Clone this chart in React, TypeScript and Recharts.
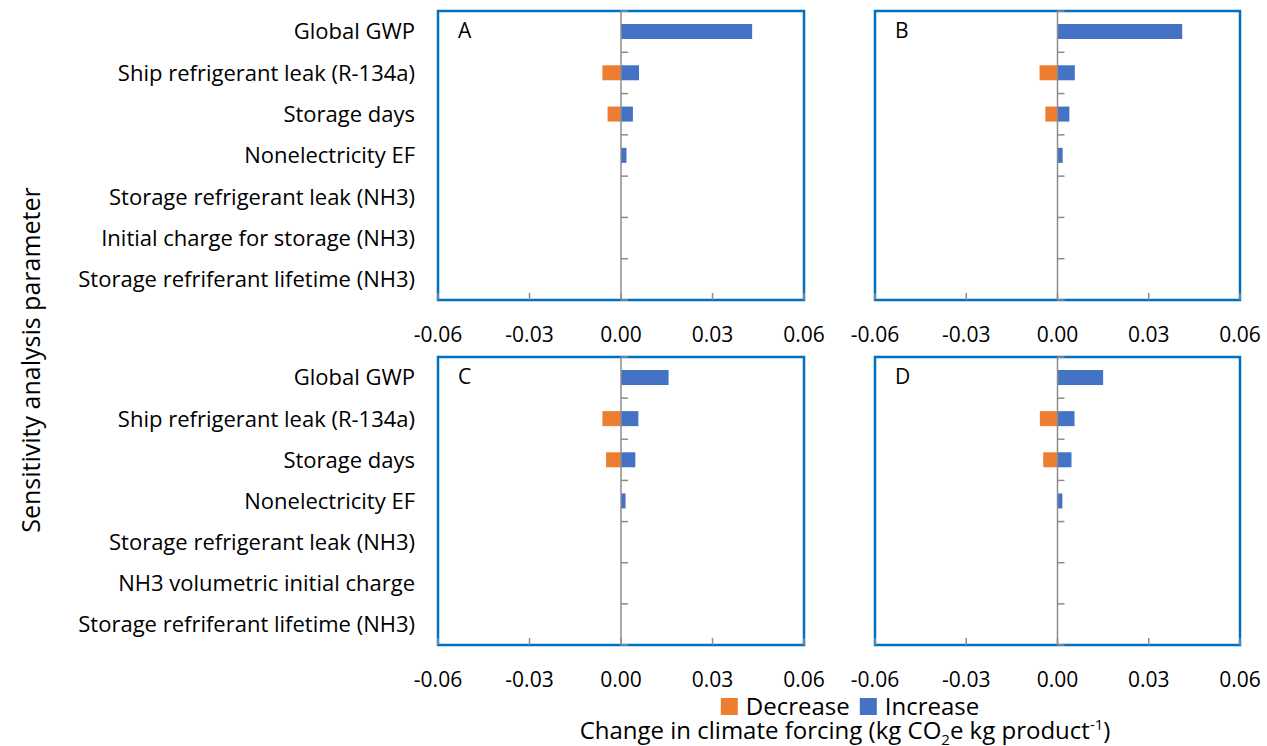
import { BarChart, Bar, XAxis, YAxis, ReferenceLine, ReferenceArea } from 'recharts';

const paramsTop = [
  'Global GWP',
  'Ship refrigerant leak (R-134a)',
  'Storage days',
  'Nonelectricity EF',
  'Storage refrigerant leak (NH3)',
  'Initial charge for storage (NH3)',
  'Storage refriferant lifetime (NH3)',
];

const paramsBottom = [
  'Global GWP',
  'Ship refrigerant leak (R-134a)',
  'Storage days',
  'Nonelectricity EF',
  'Storage refrigerant leak (NH3)',
  'NH3 volumetric initial charge',
  'Storage refriferant lifetime (NH3)',
];

// kg CO2e per kg product
const decreaseA = [0, -0.0061, -0.0044, 0, 0, 0, 0];
const increaseA = [0.043, 0.0059, 0.0039, 0.0018, 0, 0, 0];
const decreaseB = [0, -0.0059, -0.004, 0, 0, 0, 0];
const increaseB = [0.041, 0.0057, 0.0039, 0.0017, 0, 0, 0];
const decreaseC = [0, -0.0061, -0.0049, 0, 0, 0, 0];
const increaseC = [0.0156, 0.0057, 0.0047, 0.0015, 0, 0, 0];
const decreaseD = [0, -0.0058, -0.0047, 0, 0, 0, 0];
const increaseD = [0.015, 0.0056, 0.0046, 0.0016, 0, 0, 0];

const xTicks = [-0.06, -0.03, 0, 0.03, 0.06];

const ORANGE = '#ED7D31';
const BLUE = '#4472C4';
const FRAME = '#0070C0';
const GREY = '#8C8C8C';
const FONT = '"Open Sans", Lato, sans-serif';
const TICK_SIZE = 21;
const LABEL_SIZE = 22;
const TITLE_SIZE = 24;

interface Row {
  param: string;
  decrease: number;
  increase: number;
}

const buildRows = (params: string[], dec: number[], inc: number[]): Row[] =>
  params.map((param, i) => ({ param, decrease: dec[i], increase: inc[i] }));

function XTick({ x, y, payload }: any) {
  return (
    <g>
      <line x1={x} x2={x} y1={y} y2={y - 7} stroke={GREY} strokeWidth={1.5} />
      <text
        x={x}
        y={y + 34}
        textAnchor="middle"
        dominantBaseline="central"
        fontSize={TICK_SIZE}
        fontFamily={FONT}
        fill="#000"
      >
        {Number(payload.value).toFixed(2)}
      </text>
    </g>
  );
}

// vertical zero line with little category ticks on its right side
const zeroAxis = (count: number) => (props: any) => {
  const { x1, y1, y2 } = props;
  const marks = Array.from({ length: count + 1 }, (_, k) => y1 + ((y2 - y1) * k) / count);
  return (
    <g>
      <line x1={x1} x2={x1} y1={y1} y2={y2} stroke={GREY} strokeWidth={1.5} />
      {marks.map((my, k) => (
        <line key={k} x1={x1} x2={x1 + 7} y1={my} y2={my} stroke={GREY} strokeWidth={1.5} />
      ))}
    </g>
  );
};

interface PanelProps {
  letter: string;
  rows: Row[];
  showLabels: boolean;
  left: number;
  top: number;
  height: number;
}

function Panel({ letter, rows, showLabels, left, top, height }: PanelProps) {
  const width = showLabels ? 820 : 400;
  const margin = showLabels
    ? { top: 11, right: 16, bottom: 0, left: 0 }
    : { top: 11, right: 20, bottom: 0, left: 15 };
  const plotLeft = left + (showLabels ? 438 : 15);
  return (
    <>
      <div style={{ position: 'absolute', left, top }}>
        <BarChart
          width={width}
          height={height}
          data={rows}
          layout="vertical"
          margin={margin}
          stackOffset="sign"
        >
          <XAxis
            type="number"
            domain={[-0.06, 0.06]}
            ticks={xTicks}
            allowDataOverflow
            axisLine={false}
            tickLine={false}
            tickSize={0}
            tickMargin={0}
            height={45}
            tick={<XTick />}
            interval={0}
          />
          <YAxis
            type="category"
            dataKey="param"
            hide={!showLabels}
            width={showLabels ? 438 : 0}
            axisLine={false}
            tickLine={false}
            tickSize={0}
            tickMargin={23}
            interval={0}
            tick={{ fill: '#000', fontSize: LABEL_SIZE, fontFamily: FONT }}
          />
          <Bar dataKey="decrease" name="Decrease" stackId="s" fill={ORANGE} barSize={15} isAnimationActive={false} />
          <Bar dataKey="increase" name="Increase" stackId="s" fill={BLUE} barSize={15} isAnimationActive={false} />
          <ReferenceLine x={0} shape={zeroAxis(rows.length)} />
          <ReferenceArea
            x1={-0.06}
            x2={0.06}
            fill="none"
            fillOpacity={0}
            stroke={FRAME}
            strokeWidth={2.5}
            strokeOpacity={1}
          />
        </BarChart>
      </div>
      <div
        style={{
          position: 'absolute',
          left: plotLeft + 20,
          top: top + 16,
          fontSize: TICK_SIZE,
          fontFamily: FONT,
          lineHeight: '28px',
        }}
      >
        {letter}
      </div>
    </>
  );
}

export default function App() {
  return (
    <div
      style={{
        position: 'absolute',
        left: 0,
        top: 0,
        width: 1267,
        height: 746,
        background: '#fff',
        fontFamily: FONT,
        color: '#000',
        overflow: 'hidden',
      }}
    >
      <style>{'.recharts-surface { overflow: visible; } .recharts-wrapper { overflow: visible; }'}</style>
      <Panel letter="A" rows={buildRows(paramsTop, decreaseA, increaseA)} showLabels left={0} top={0} height={345} />
      <Panel letter="B" rows={buildRows(paramsTop, decreaseB, increaseB)} showLabels={false} left={860} top={0} height={345} />
      <Panel letter="C" rows={buildRows(paramsBottom, decreaseC, increaseC)} showLabels left={0} top={346} height={344} />
      <Panel letter="D" rows={buildRows(paramsBottom, decreaseD, increaseD)} showLabels={false} left={860} top={346} height={344} />

      <div
        style={{
          position: 'absolute',
          left: 30,
          top: 360,
          transform: 'translate(-50%, -50%) rotate(-90deg)',
          whiteSpace: 'nowrap',
          fontSize: 25,
          lineHeight: '28px',
        }}
      >
        Sensitivity analysis parameter
      </div>

      <div
        style={{
          position: 'absolute',
          left: 850,
          top: 706,
          transform: 'translate(-50%, -50%)',
          display: 'flex',
          alignItems: 'center',
          whiteSpace: 'nowrap',
          fontSize: TITLE_SIZE,
          lineHeight: '20px',
        }}
      >
        <span style={{ width: 17, height: 17, background: ORANGE, marginRight: 8 }} />
        <span style={{ marginRight: 10 }}>Decrease</span>
        <span style={{ width: 17, height: 17, background: BLUE, marginRight: 8 }} />
        <span>Increase</span>
      </div>

      <div
        style={{
          position: 'absolute',
          left: 845,
          top: 730,
          transform: 'translate(-50%, -50%)',
          whiteSpace: 'nowrap',
          fontSize: TITLE_SIZE,
          lineHeight: '24px',
        }}
      >
        Change in climate forcing (kg CO<sub style={{ fontSize: 15, lineHeight: 0 }}>2</sub>e kg product
        <sup style={{ fontSize: 15, lineHeight: 0 }}>-1</sup>)
      </div>
    </div>
  );
}
